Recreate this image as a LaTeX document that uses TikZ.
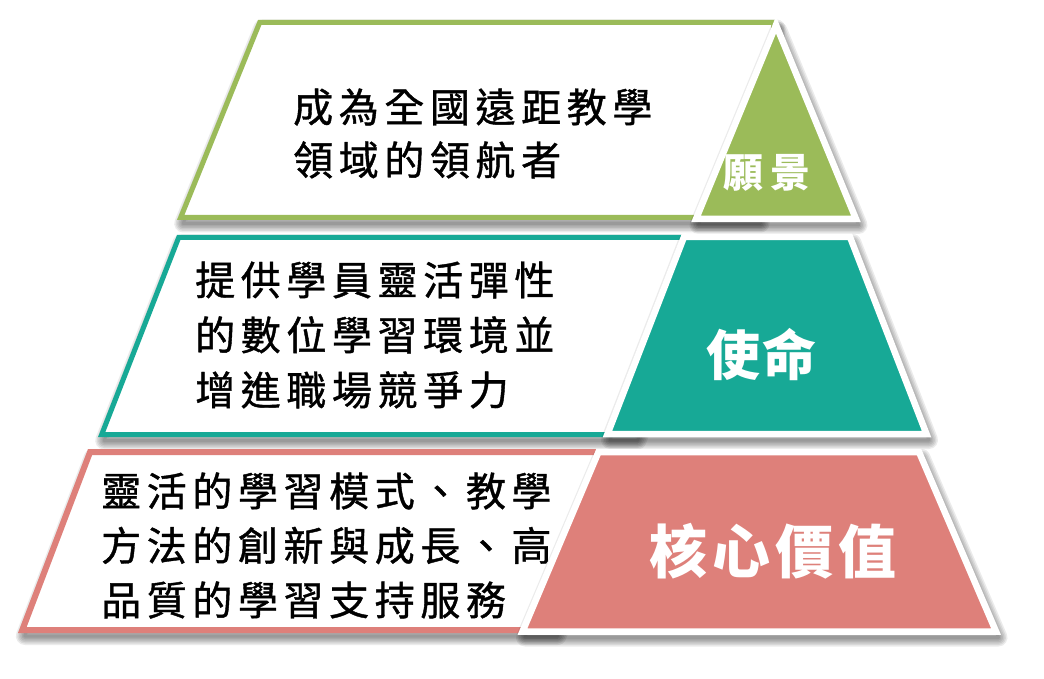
\documentclass[tikz,border=0pt]{standalone}
\usepackage{fontspec}
\newfontfamily\bodyfont{Noto Sans CJK TC}[LetterSpace=14,FakeBold=1]
\newfontfamily\labelfont{Noto Sans CJK TC}
\definecolor{vgreen}{HTML}{9BBB59}
\definecolor{mteal}{HTML}{17A996}
\definecolor{cpink}{HTML}{DE807A}
\newcommand\softshadow[1]{%
  \foreach \w in {3pt,6pt,9pt,12pt,15pt,18pt}{%
    \draw[black, opacity=0.08, line width=\w, line join=round, shift={(2.5,6)}] #1;}}
\begin{document}
\begin{tikzpicture}[x=1pt,y=-1pt,
  band/.style={fill=white, line width=#1, line join=miter},
  piece/.style={draw=white, line width=6.5pt, line join=miter},
  bodytext/.style={anchor=west, align=left, inner sep=0pt, text=black,
    font=\bodyfont\fontsize{40pt}{#1}\selectfont},
  labeltext/.style={inner sep=0pt, text=white, font=\labelfont\bfseries\fontsize{#1}{#1}\selectfont}]
\useasboundingbox (0,0) rectangle (1044,679);
\fill[white] (0,0) rectangle (1044,679);

% ---- level 1 : vision
\def\bandA{(259.7,22.5) -- (774,22.5) -- (758,217.5) -- (180.7,217.5) -- cycle}
\def\pieceA{(776,25) -- (856,219) -- (696,219) -- cycle}
\softshadow{\bandA}
\draw[band=5pt, draw=vgreen] \bandA;
\softshadow{\pieceA}
\fill[vgreen, piece] \pieceA;

% ---- level 2 : mission
\def\bandB{(178.7,237.5) -- (712,237.5) -- (635,434.5) -- (101.7,434.5) -- cycle}
\def\pieceB{(684,237) -- (850,237) -- (926.5,434) -- (607.5,434) -- cycle}
\softshadow{\bandB}
\draw[band=5pt, draw=mteal] \bandB;
\softshadow{\pieceB}
\fill[mteal, piece] \pieceB;

% ---- level 3 : core values
\def\bandC{(90.1,452) -- (625,452) -- (555,630) -- (22.3,630) -- cycle}
\def\pieceC{(598.5,452) -- (919,452) -- (996,631.5) -- (522.5,631.5) -- cycle}
\softshadow{\bandC}
\draw[band=6pt, draw=cpink] \bandC;
\softshadow{\pieceC}
\fill[cpink, piece] \pieceC;

% ---- texts
\node[bodytext=53pt] (visiontext) at (293,133.5) {成為全國遠距教學\\領域的領航者};
\node[bodytext=55pt] (missiontext) at (195,335) {提供學員靈活彈性\\的數位學習環境並\\增進職場競爭力};
\node[bodytext=54.5pt] (valuetext) at (101,545.5) {靈活的學習模式、教學\\方法的創新與成長、高\\品質的學習支持服務};

\node[labeltext=40pt] (vision) at (767,173) {願\hspace{7pt}景};
\node[labeltext=54pt] (mission) at (761,355) {使\hspace{2pt}命};
\node[labeltext=58pt] (values) at (773,551) {核\hspace{5pt}心\hspace{5pt}價\hspace{5pt}值};
\end{tikzpicture}
\end{document}
